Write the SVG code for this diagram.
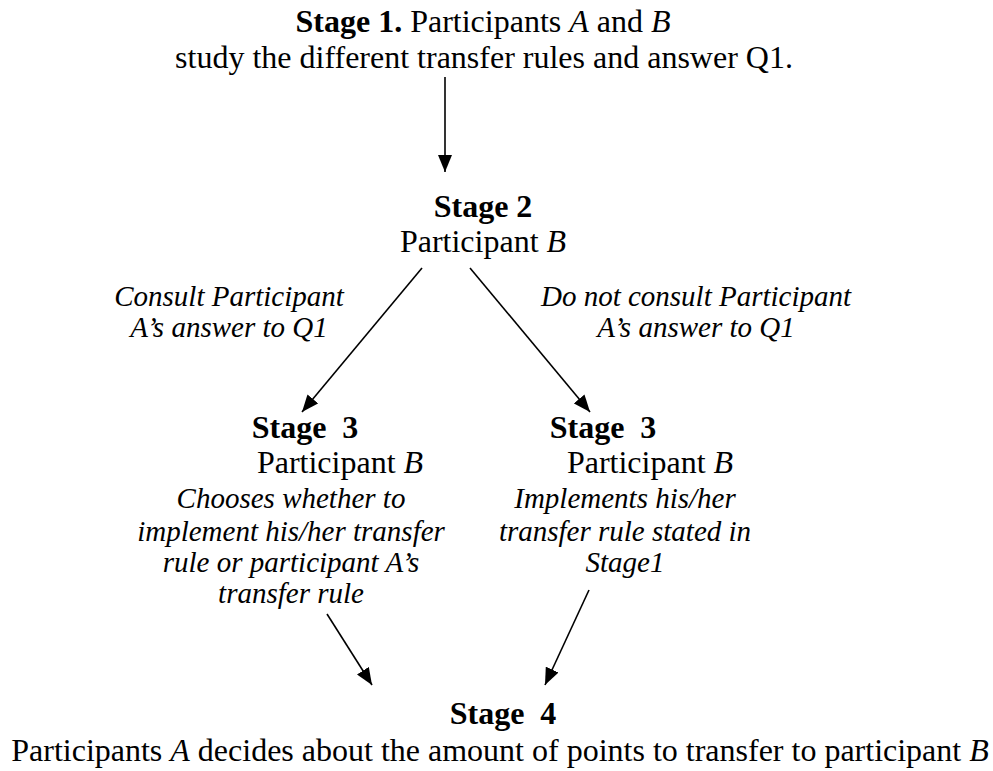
<svg xmlns="http://www.w3.org/2000/svg" width="993" height="771" viewBox="0 0 993 771" font-family="'Liberation Serif', 'DejaVu Serif', serif">
<style>
text{fill:#000}
.r{font-size:32px}
.b{font-size:32px;font-weight:bold}
.i{font-size:29px;font-style:italic}
.c{text-anchor:middle}
.ln{stroke:#000;stroke-width:1.6;fill:none;marker-end:url(#ah)}
</style>
<defs>
<marker id="ah" markerUnits="userSpaceOnUse" markerWidth="17" markerHeight="14" refX="17" refY="7" orient="auto">
<path d="M0,0 L17,7 L0,14 z" fill="#000"/>
</marker>
</defs>
<rect width="993" height="771" fill="#fff"/>
<g id="stage1">
<text class="r c" x="483" y="32"><tspan font-weight="bold">Stage 1.</tspan> Participants <tspan font-style="italic">A</tspan> and <tspan font-style="italic">B</tspan></text>
<text class="r c" x="484" y="68">study the different transfer rules and answer Q1.</text>
</g>
<g id="stage2">
<text class="b c" x="483" y="217">Stage 2</text>
<text class="r c" x="483" y="252">Participant <tspan font-style="italic">B</tspan></text>
</g>
<g id="label-consult">
<text class="i c" x="229" y="306">Consult Participant</text>
<text class="i c" x="229" y="337">A’s answer to Q1</text>
</g>
<g id="label-notconsult">
<text class="i c" x="696" y="306">Do not consult Participant</text>
<text class="i c" x="696" y="337">A’s answer to Q1</text>
</g>
<g id="stage3-left">
<text class="b c" x="305" y="438" xml:space="preserve">Stage  3</text>
<text class="r c" x="340" y="473">Participant <tspan font-style="italic">B</tspan></text>
<text class="i c" x="291" y="508">Chooses whether to</text>
<text class="i c" x="291" y="541">implement his/her transfer</text>
<text class="i c" x="291" y="572">rule or participant A’s</text>
<text class="i c" x="291" y="603">transfer rule</text>
</g>
<g id="stage3-right">
<text class="b c" x="603" y="438" xml:space="preserve">Stage  3</text>
<text class="r c" x="650" y="473">Participant <tspan font-style="italic">B</tspan></text>
<text class="i c" x="625" y="508">Implements his/her</text>
<text class="i c" x="625" y="541">transfer rule stated in</text>
<text class="i c" x="625" y="572">Stage1</text>
</g>
<g id="stage4">
<text class="b c" x="503" y="724" xml:space="preserve">Stage  4</text>
<text class="r c" x="500" y="761">Participants <tspan font-style="italic">A</tspan> decides about the amount of points to transfer to participant <tspan font-style="italic">B</tspan></text>
</g>
<g id="connectors">
<line class="ln" x1="445" y1="77" x2="445" y2="172"/>
<line class="ln" x1="422" y1="268" x2="302" y2="412"/>
<line class="ln" x1="470" y1="268" x2="590" y2="412"/>
<line class="ln" x1="327" y1="614" x2="372" y2="685"/>
<line class="ln" x1="589" y1="590" x2="545" y2="685"/>
</g>
</svg>
